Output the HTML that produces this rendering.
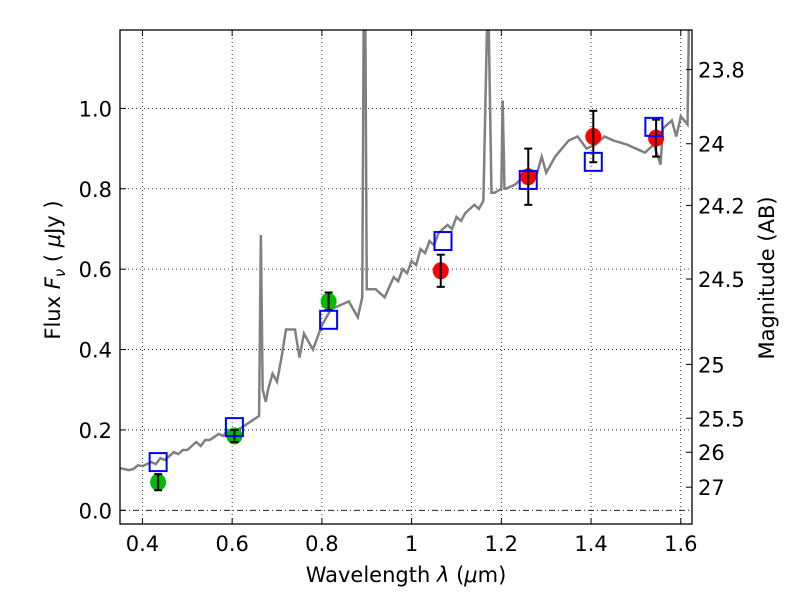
<!DOCTYPE html>
<html><head><meta charset="utf-8"><style>
body{margin:0;background:#fff;}
svg{font-family:"DejaVu Sans","Liberation Sans",sans-serif;}
</style></head><body>
<svg id="chart" width="800" height="600" xmlns="http://www.w3.org/2000/svg">
<rect x="0" y="0" width="800" height="600" fill="#fff"/>
<g id="grid"></g>
<g id="spec"></g>
<g id="marks"></g>
<g id="axes"></g>
<text x="406" y="582" font-size="21" text-anchor="middle">Wavelength  <tspan font-style="italic">λ</tspan> (<tspan font-style="italic">μ</tspan>m)</text>
<text transform="translate(60,270) rotate(-90)" font-size="21" text-anchor="middle">Flux  <tspan font-style="italic">F</tspan><tspan font-style="italic" font-size="15" dy="5">ν</tspan><tspan dy="-5">  ( </tspan><tspan font-style="italic">μ</tspan>Jy )</text>
<text transform="translate(774,278) rotate(-90)" font-size="21" text-anchor="middle">Magnitude (AB)</text>
</svg>
<script>
const xTicks=[0.4,0.6,0.8,1.0,1.2,1.4,1.6];
const xTickLabels=["0.4","0.6","0.8","1","1.2","1.4","1.6"];
const yTicks=[0,0.2,0.4,0.6,0.8,1.0];
const yTickLabels=["0.0","0.2","0.4","0.6","0.8","1.0"];
const magTicks=[23.8,24,24.2,24.5,25,25.5,26,27];
const magTickLabels=["23.8","24","24.2","24.5","25","25.5","26","27"];
const specWave=[0.35,0.37,0.38,0.39,0.40,0.42,0.43,0.44,0.45,0.47,0.48,0.49,0.50,0.52,0.53,0.54,0.55,0.57,0.58,0.59,0.60,0.62,0.64,0.66,0.664,0.668,0.675,0.68,0.69,0.70,0.71,0.72,0.74,0.75,0.76,0.78,0.80,0.82,0.84,0.86,0.88,0.89,0.893,0.897,0.90,0.92,0.94,0.96,0.97,0.98,0.99,1.00,1.01,1.02,1.03,1.04,1.05,1.06,1.07,1.08,1.09,1.10,1.11,1.12,1.13,1.14,1.15,1.16,1.168,1.172,1.178,1.185,1.20,1.203,1.207,1.21,1.23,1.25,1.28,1.29,1.30,1.32,1.35,1.37,1.39,1.41,1.43,1.45,1.48,1.50,1.52,1.54,1.555,1.56,1.58,1.59,1.60,1.615,1.618,1.625];
const specFlux=[0.105,0.10,0.103,0.112,0.11,0.12,0.115,0.13,0.125,0.145,0.14,0.15,0.15,0.17,0.16,0.175,0.175,0.19,0.185,0.20,0.195,0.205,0.22,0.235,0.685,0.3,0.27,0.30,0.34,0.32,0.38,0.45,0.45,0.38,0.44,0.40,0.46,0.50,0.51,0.52,0.48,0.53,1.2,1.2,0.55,0.55,0.53,0.58,0.57,0.60,0.59,0.62,0.61,0.65,0.64,0.67,0.66,0.69,0.70,0.71,0.70,0.73,0.72,0.74,0.75,0.76,0.75,0.77,1.2,1.2,0.79,0.79,0.80,1.02,0.80,0.80,0.81,0.83,0.84,0.88,0.84,0.88,0.92,0.93,0.90,0.91,0.93,0.92,0.91,0.90,0.89,0.91,0.86,0.95,0.97,0.93,0.98,0.96,1.2,1.2];
const modelWave=[0.435,0.605,0.815,1.07,1.26,1.405,1.54];
const modelFlux=[0.12,0.207,0.474,0.67,0.822,0.867,0.954];
const greenWave=[0.435,0.605,0.815];
const greenFlux=[0.07,0.185,0.52];
const greenErr=[0.02,0.015,0.022];
const redWave=[1.065,1.26,1.405,1.545];
const redFlux=[0.596,0.83,0.93,0.926];
const redErr=[0.04,0.07,0.064,0.046];

const L=120,R=692,T=30,B=524,X0=0.35,X1=1.625,Y0=-0.034,Y1=1.195;
const sx=v=>L+(v-X0)/(X1-X0)*(R-L);
const sy=v=>B-(v-Y0)/(Y1-Y0)*(B-T);
const NS="http://www.w3.org/2000/svg";
function mk(tag,attrs,parent){const e=document.createElementNS(NS,tag);for(const k in attrs)e.setAttribute(k,attrs[k]);parent.appendChild(e);return e;}
const grid=document.getElementById('grid'),axes=document.getElementById('axes'),spec=document.getElementById('spec'),marks=document.getElementById('marks');

xTicks.forEach((t,i)=>{
 const g=mk('line',{x1:sx(t),x2:sx(t),y1:T,y2:B,stroke:'#000','stroke-width':0.8,'stroke-dasharray':'1,3'},grid);
 
 
 mk('line',{x1:sx(t),x2:sx(t),y1:B,y2:B-6,stroke:'#000'},axes);
 mk('line',{x1:sx(t),x2:sx(t),y1:T,y2:T+6,stroke:'#000'},axes);
 const tx=mk('text',{x:sx(t),y:B+27,'font-size':21,'text-anchor':'middle'},axes);
 tx.textContent=xTickLabels[i];
 
 
});
yTicks.forEach((t,i)=>{
 const g=mk('line',{x1:L,x2:R,y1:sy(t),y2:sy(t),stroke:'#000','stroke-width':0.8,'stroke-dasharray':t===0?'6,3,1,3':'1,3'},grid);
 
 
 mk('line',{x1:L,x2:L+6,y1:sy(t),y2:sy(t),stroke:'#000'},axes);
 const tx=mk('text',{x:L-8,y:sy(t)+8,'font-size':21,'text-anchor':'end'},axes);
 tx.textContent=yTickLabels[i];
 
 
});
magTicks.forEach((m,i)=>{
 const y=sy(Math.pow(10,(23.9-m)/2.5));
 mk('line',{x1:R,x2:R-6,y1:y,y2:y,stroke:'#000'},axes);
 const tx=mk('text',{x:R+6,y:y+8,'font-size':21},axes);
 tx.textContent=magTickLabels[i];
 
 
});
const fr=mk('rect',{x:L,y:T,width:R-L,height:B-T,fill:'none',stroke:'#000','stroke-width':1.3},axes);



const cp=mk('clipPath',{id:'cp'},spec);mk('rect',{x:L,y:T,width:R-L,height:B-T},cp);
const sl=mk('polyline',{points:specWave.map((w,i)=>sx(w)+','+sy(specFlux[i])).join(' '),fill:'none',stroke:'#808080','stroke-width':2.5,'clip-path':'url(#cp)'},spec);



function errbar(x,f,e){
 mk('line',{x1:sx(x),x2:sx(x),y1:sy(f+e),y2:sy(f-e),stroke:'#000','stroke-width':2},marks);
 [f+e,f-e].forEach(v=>mk('line',{x1:sx(x)-4,x2:sx(x)+4,y1:sy(v),y2:sy(v),stroke:'#000','stroke-width':2},marks));
}
greenWave.forEach((w,i)=>{
 const c=mk('ellipse',{cx:sx(w),cy:sy(greenFlux[i]),rx:8,ry:8.5,fill:'#00bb00'},marks);
 
 
 errbar(w,greenFlux[i],greenErr[i]);
});
redWave.forEach((w,i)=>{
 const c=mk('ellipse',{cx:sx(w),cy:sy(redFlux[i]),rx:8,ry:8.5,fill:'#ff0000'},marks);
 
 
 errbar(w,redFlux[i],redErr[i]);
});
modelWave.forEach((w,i)=>{
 const r=mk('rect',{x:sx(w)-8.5,y:sy(modelFlux[i])-9,width:17,height:18,fill:'none',stroke:'#0000ff','stroke-width':2},marks);
 
 
});
</script>
</body></html>
